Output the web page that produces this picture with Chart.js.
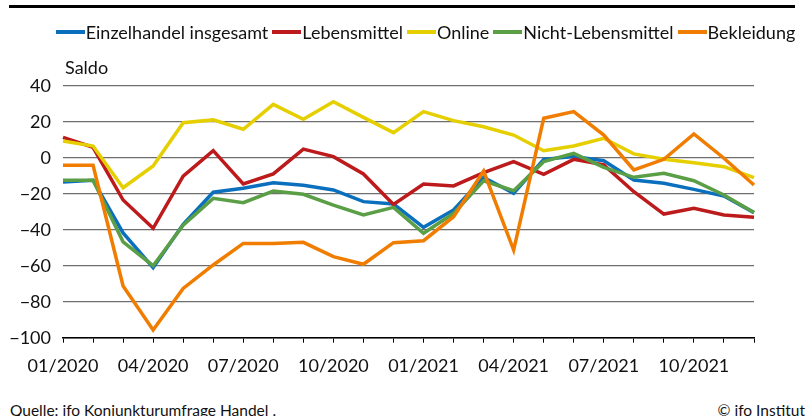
<!DOCTYPE html>
<html>
<head>
<meta charset="utf-8">
<script src="https://cdn.jsdelivr.net/npm/chart.js@4.4.1/dist/chart.umd.min.js"></script>
<style>
  html, body { margin: 0; padding: 0; background: #fff; }
  #wrap { position: relative; width: 808px; height: 416px; overflow: hidden; font-family: Lato, sans-serif; color: #111; }
  #chart { position: absolute; left: 0; top: 0; }
  .rule { position: absolute; left: 9px; top: 5px; width: 786px; height: 3px; background: #000; }
  #legend { position: absolute; left: 39px; width: 769px; top: 20px; height: 24px; display: flex; justify-content: center; align-items: center; font-size: 18px; white-space: nowrap; }
  #legend .item { display: flex; align-items: center; margin-left: 4px; }
  #legend .sw { width: 29px; height: 4px; margin-right: 1px; }
  .ytitle { position: absolute; left: 65px; top: 56px; font-size: 18px; }
  .source { position: absolute; left: 10px; top: 401px; font-size: 15.5px; }
  .copy { position: absolute; right: 3px; top: 401px; font-size: 15.5px; }
</style>
</head>
<body>
<div id="wrap">
  <canvas id="chart" width="808" height="380"></canvas>
  <div class="rule"></div>
  <div id="legend"></div>
  <div class="ytitle">Saldo</div>
  <div class="source">Quelle: ifo Konjunkturumfrage Handel .</div>
  <div class="copy">© ifo Institut</div>
</div>
<script>
// Monatswerte 01/2020 bis 12/2021, Saldo in Prozentpunkten
const months = ['01/2020', '02/2020', '03/2020', '04/2020', '05/2020', '06/2020', '07/2020', '08/2020', '09/2020', '10/2020', '11/2020', '12/2020',
                '01/2021', '02/2021', '03/2021', '04/2021', '05/2021', '06/2021', '07/2021', '08/2021', '09/2021', '10/2021', '11/2021', '12/2021'];

const einzelhandel = [-13.5, -12.5, -41.8, -61.1, -37, -19.2, -17, -13.9, -15.3, -17.9, -24.4, -25.7,
                      -38.7, -29, -10.9, -19.8, -0.9, 0.6, -1.7, -12.4, -14.2, -17.6, -21.3, -30.5];
const lebensmittel = [11.3, 5.8, -23.5, -39.2, -10.2, 3.9, -14.6, -9, 4.8, 0.6, -9, -26,
                      -14.6, -15.7, -8.3, -2.2, -9.2, -0.9, -4, -18.9, -31.3, -28.1, -31.8, -33.1];
const online = [9.3, 6.5, -16.7, -4.6, 19.4, 21, 15.8, 29.6, 21.3, 31.1, 22.4, 13.9,
                25.6, 20.6, 17.2, 12.6, 3.9, 6.5, 10.8, 2.1, -0.9, -2.8, -5, -11.1];
const nichtLebensmittel = [-12.5, -12.5, -46.7, -60, -37.5, -22.6, -25, -18.5, -20.3, -26.3, -31.8, -27.6,
                           -42, -30.9, -12.8, -18.3, -2.2, 2.4, -5.4, -10.9, -8.7, -12.8, -20.7, -30.5];
const bekleidung = [-4.2, -4.2, -71.3, -95.7, -72.6, -59.6, -47.6, -47.6, -47, -55, -59.2, -47.2,
                    -46.1, -32.8, -7.4, -51.3, 21.9, 25.6, 12.6, -6.8, -0.9, 13.2, -0.3, -15.2];

const yTicks = [40, 20, 0, -20, -40, -60, -80, -100];

// order: kleinere Zahl wird zuletzt (oben) gezeichnet
const series = [
  { label: 'Einzelhandel insgesamt', data: einzelhandel, color: '#0a70bd', order: 4 },
  { label: 'Lebensmittel', data: lebensmittel, color: '#bd1a1c', order: 3 },
  { label: 'Online', data: online, color: '#e6cf00', order: 2 },
  { label: 'Nicht-Lebensmittel', data: nichtLebensmittel, color: '#5a9e46', order: 1 },
  { label: 'Bekleidung', data: bekleidung, color: '#f07d00', order: 0 }
];

const fontFamily = 'Lato, sans-serif';

// HTML-Legende
const legend = document.getElementById('legend');
series.forEach(s => {
  const item = document.createElement('div');
  item.className = 'item';
  const sw = document.createElement('span');
  sw.className = 'sw';
  sw.style.background = s.color;
  const txt = document.createElement('span');
  txt.textContent = s.label;
  item.appendChild(sw);
  item.appendChild(txt);
  legend.appendChild(item);
});

const ctx = document.getElementById('chart').getContext('2d');
new Chart(ctx, {
  type: 'line',
  data: {
    labels: months,
    datasets: series.map(s => ({
      label: s.label,
      data: s.data,
      borderColor: s.color,
      backgroundColor: s.color,
      borderWidth: 3.5,
      pointRadius: 0,
      tension: 0,
      fill: false,
      order: s.order
    }))
  },
  options: {
    responsive: false,
    animation: false,
    layout: { padding: { left: 0, right: 54, top: 85.7, bottom: 0 } },
    plugins: { legend: { display: false }, tooltip: { enabled: false } },
    scales: {
      x: {
        offset: false,
        afterFit: (scale) => { scale.height = 42.3; },
        grid: { drawOnChartArea: false, drawTicks: true, tickLength: 5, color: '#000', lineWidth: 1 },
        border: { display: true, color: '#000', width: 1.5 },
        ticks: {
          autoSkip: false,
          maxRotation: 0,
          padding: 13,
          color: '#111',
          font: { family: fontFamily, size: 18 },
          callback: function(value, index) {
            return index % 3 === 0 ? months[index] : '';
          }
        }
      },
      y: {
        min: -100,
        max: 40,
        afterFit: (scale) => { scale.width = 63; },
        afterBuildTicks: (scale) => { scale.ticks = yTicks.map(v => ({ value: v })); },
        grid: { drawTicks: false, color: '#6e6e6e', lineWidth: 1.3 },
        border: { display: false },
        ticks: {
          padding: 12,
          color: '#111',
          font: { family: fontFamily, size: 18 },
          callback: (v) => String(v).replace('-', '\u2212')
        }
      }
    }
  }
});
</script>
</body>
</html>
